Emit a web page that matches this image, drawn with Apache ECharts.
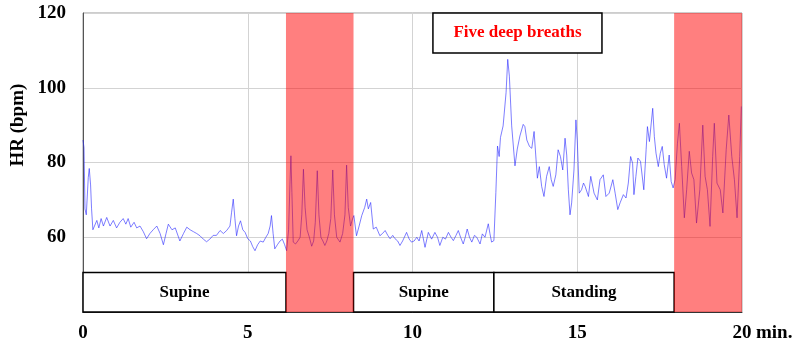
<!DOCTYPE html>
<html>
<head>
<meta charset="utf-8">
<script src="https://cdn.jsdelivr.net/npm/echarts@6/dist/echarts.min.js"></script>
<style>
  html, body { margin: 0; padding: 0; background: #fff; }
  #chart { width: 805px; height: 347px; }
</style>
</head>
<body>
<div id="chart"></div>
<script>
// Heart rate recording over a 20-minute protocol (minutes, beats per minute)
const minutes = [
  0.00,0.03,0.06,0.10,0.16,0.19,0.23,0.26,0.30,0.36,
  0.42,0.48,0.55,0.62,0.72,0.82,0.92,1.02,1.12,1.22,
  1.30,1.37,1.45,1.55,1.63,1.73,1.83,1.93,2.03,2.13,
  2.24,2.34,2.44,2.52,2.59,2.70,2.80,2.94,3.05,3.15,
  3.25,3.35,3.45,3.55,3.65,3.75,3.85,3.95,4.05,4.16,
  4.26,4.36,4.46,4.51,4.56,4.61,4.66,4.72,4.78,4.85,
  4.92,5.00,5.08,5.15,5.22,5.30,5.38,5.47,5.55,5.62,
  5.68,5.72,5.77,5.82,5.90,5.98,6.05,6.12,6.18,6.24,
  6.28,6.31,6.34,6.38,6.45,6.52,6.59,6.64,6.69,6.74,
  6.80,6.87,6.94,7.00,7.05,7.11,7.16,7.22,7.28,7.34,
  7.40,7.46,7.52,7.58,7.63,7.70,7.80,7.88,7.95,8.00,
  8.05,8.12,8.18,8.22,8.30,8.38,8.46,8.55,8.61,8.66,
  8.73,8.81,8.90,9.01,9.09,9.17,9.25,9.32,9.40,9.47,
  9.55,9.62,9.70,9.82,9.90,9.97,10.05,10.13,10.20,10.28,
  10.38,10.48,10.58,10.68,10.76,10.83,10.92,11.00,11.09,11.17,
  11.24,11.32,11.39,11.46,11.54,11.60,11.66,11.73,11.80,11.88,
  11.95,12.05,12.12,12.20,12.30,12.35,12.40,12.47,12.53,12.58,
  12.63,12.67,12.75,12.84,12.89,12.94,13.01,13.11,13.18,13.26,
  13.36,13.41,13.47,13.55,13.62,13.69,13.75,13.79,13.85,13.92,
  13.99,14.07,14.15,14.21,14.27,14.35,14.42,14.49,14.56,14.63,
  14.68,14.73,14.78,14.83,14.90,14.96,15.00,15.06,15.13,15.19,
  15.24,15.34,15.41,15.51,15.61,15.69,15.79,15.87,15.97,16.08,
  16.15,16.23,16.30,16.40,16.48,16.55,16.62,16.68,16.72,16.78,
  16.84,16.92,17.02,17.09,17.13,17.19,17.29,17.34,17.39,17.46,
  17.52,17.58,17.64,17.71,17.79,17.85,17.91,17.97,18.04,18.10,
  18.17,18.25,18.32,18.40,18.47,18.54,18.62,18.72,18.81,18.88,
  18.95,19.03,19.11,19.16,19.24,19.34,19.42,19.52,19.60,19.69,
  19.77,19.85,19.93,19.98
];
const hr = [
  86,84,67.6,66,76,78.4,74,67.6,62,61.8,
  64.5,62.5,65,63,65.3,63,64.5,62.5,64,65,
  63.5,65,62.7,64,62.5,63,61.5,59.6,61,62,
  63,61,58,61,63.5,62,62.5,59,61,62.7,
  62,61.5,61,60.4,59.5,58.8,59.5,60.5,60.5,61.8,
  61,61.8,63,66.7,70.2,65,60.4,63,64.4,62,
  61.3,59.6,59,57.5,56.4,58,59,58.7,60,61,
  63,65.8,61,56.9,58,59,59.5,58,56.4,62,
  74,81.8,72,58.7,58.2,59,60,66,78.2,68,
  62,60,57.6,59,64,77.8,66,60,59,57.8,
  59,61,65,78,66,60,58.7,61,66,79.3,
  68,63,64.9,65.8,60.4,63,65.8,68,70.2,67.6,
  69.3,62.2,62.7,60.4,61,61.8,60.5,59.6,60.5,59.6,
  59,57.8,59,61.3,59.5,58.7,59,60,59,61.8,
  57.3,61.3,59.5,61.3,60,57.8,60,59.5,61.3,60,
  59.1,60.5,61.8,60,58.2,60,62.2,60,58.7,60.5,
  60,58.2,60.9,60,63.6,61,58.7,59.1,72,84.4,
  81.6,86.7,89.8,98.7,107.6,103.1,89.8,79.1,83.6,87.1,
  90.2,89.6,86,84.3,83.8,88.3,80.7,75.8,78.9,73.6,
  70.9,76.3,78.9,75.4,73.6,76.7,83.4,81.6,78,86.5,
  82,72.7,66,69.2,78,91.4,86,71.8,72.7,74.5,
  73.6,70.9,76.3,71.8,70,75.4,76.7,70.9,71.8,75.4,
  71.8,67.4,69.2,71.4,70.5,74.5,81.6,79.8,71.4,76.3,
  81.2,80.3,72.7,83.4,89.6,85.6,94.5,86.9,82.5,78.9,
  82.5,84.3,79.4,75.8,82,74.9,73.2,75.4,85,90.5,
  78.9,65.2,72.7,83,77.2,75.4,63.8,72.7,90,76.3,
  72.7,62.9,81.6,90.5,74.5,72.7,66.5,83.4,92.7,81.6,
  75.4,65.2,81.6,95
];

// Posture phases (minutes)
const phaseNames = ['Supine', 'Supine', 'Standing'];
const phaseStart = [0, 8.21, 12.47];
const phaseEnd = [6.16, 12.47, 17.94];

// Deep-breathing periods (minutes)
const breathStart = [6.16, 17.94];
const breathEnd = [8.21, 20];

// Annotation
const noteText = 'Five deep breaths';
const noteStart = 10.62;
const noteEnd = 15.75;

// Axis ticks
const xTicks = [0, 5, 10, 15, 20];
const yTicks = [60, 80, 100, 120];

const SERIF = '"Liberation Serif", "Times New Roman", serif';
const Y_MIN = 40, Y_MAX = 120;
const BOX_TOP = 50.6;
const NOTE_BOTTOM = 109.3;

const chart = echarts.init(document.getElementById('chart'), null, { renderer: 'canvas' });

function rectBetween(api, x0, y0, x1, y1) {
  const a = api.coord([x0, y0]);
  const b = api.coord([x1, y1]);
  return { x: a[0], y: a[1], width: b[0] - a[0], height: b[1] - a[1] };
}

const option = {
  animation: false,
  backgroundColor: '#fff',
  grid: {
    left: 83, right: 63, top: 13, bottom: 35,
    show: true, borderColor: '#9a9a9a', borderWidth: 1
  },
  xAxis: {
    type: 'value', min: 0, max: 20, interval: 5,
    axisLine: { show: true, lineStyle: { color: '#333', width: 1 } },
    axisTick: { show: false },
    splitLine: { show: true, lineStyle: { color: '#d3d3d3', width: 1 } },
    axisLabel: {
      margin: 12,
      fontFamily: SERIF, fontWeight: 'bold', fontSize: 19, color: '#000',
      formatter: v => xTicks.includes(v) ? String(v) : ''
    }
  },
  yAxis: {
    type: 'value', min: Y_MIN, max: Y_MAX, interval: 20,
    axisLine: { show: true, lineStyle: { color: '#555', width: 1 } },
    axisTick: { show: false },
    splitLine: { show: true, lineStyle: { color: '#d3d3d3', width: 1 } },
    axisLabel: {
      margin: 17,
      fontFamily: SERIF, fontWeight: 'bold', fontSize: 19, color: '#000',
      formatter: v => yTicks.includes(v) ? String(v) : ''
    }
  },
  series: [
    {
      name: 'HR',
      type: 'line',
      z: 2,
      showSymbol: false,
      smooth: false,
      lineStyle: { color: 'rgba(40,40,255,0.6)', width: 1 },
      data: minutes.map((t, i) => [t, hr[i]])
    },
    {
      name: 'phases',
      type: 'custom',
      z: 4,
      encode: { x: [0, 1] },
      data: phaseStart.map((s, i) => [s, phaseEnd[i], i]),
      renderItem: (params, api) => {
        const r = rectBetween(api, api.value(0), BOX_TOP, api.value(1), Y_MIN);
        return {
          type: 'group',
          children: [
            { type: 'rect', shape: r, style: { fill: '#fff', stroke: '#000', lineWidth: 1.5 } },
            {
              type: 'text',
              x: r.x + r.width / 2, y: r.y + r.height / 2,
              style: {
                text: phaseNames[api.value(2)],
                font: 'bold 17px ' + SERIF, fill: '#000',
                align: 'center', verticalAlign: 'middle'
              }
            }
          ]
        };
      }
    },
    {
      name: 'note',
      type: 'custom',
      z: 4,
      encode: { x: [0, 1] },
      data: [[noteStart, noteEnd]],
      renderItem: (params, api) => {
        const r = rectBetween(api, api.value(0), Y_MAX, api.value(1), NOTE_BOTTOM);
        return {
          type: 'group',
          children: [
            { type: 'rect', shape: r, style: { fill: '#fff', stroke: '#000', lineWidth: 1.5 } },
            {
              type: 'text',
              x: r.x + r.width / 2, y: r.y + r.height / 2,
              style: {
                text: noteText,
                font: 'bold 17px ' + SERIF, fill: '#ff0000',
                align: 'center', verticalAlign: 'middle'
              }
            }
          ]
        };
      }
    },
    {
      name: 'breathing',
      type: 'custom',
      z: 10,
      encode: { x: [0, 1] },
      data: breathStart.map((s, i) => [s, breathEnd[i]]),
      renderItem: (params, api) => ({
        type: 'rect',
        shape: rectBetween(api, api.value(0), Y_MAX, api.value(1), Y_MIN),
        style: { fill: 'rgba(255,0,0,0.5)' }
      })
    }
  ]
};

chart.setOption(option);

// Axis title and unit suffix next to the last x tick
const x20 = chart.convertToPixel({ xAxisIndex: 0 }, 20);
const yBase = chart.convertToPixel({ yAxisIndex: 0 }, Y_MIN);
const yMid = chart.convertToPixel({ yAxisIndex: 0 }, 90);
chart.setOption({
  graphic: [
    {
      type: 'text',
      x: 18, y: yMid,
      rotation: Math.PI / 2,
      style: {
        text: 'HR (bpm)', font: 'bold 19px ' + SERIF, fill: '#000',
        align: 'center', verticalAlign: 'middle'
      }
    },
    {
      type: 'text',
      x: x20 + 14, y: yBase + 12,
      style: {
        text: 'min.', font: 'bold 19px ' + SERIF, fill: '#000',
        align: 'left', verticalAlign: 'top'
      }
    }
  ]
});
</script>
</body>
</html>
